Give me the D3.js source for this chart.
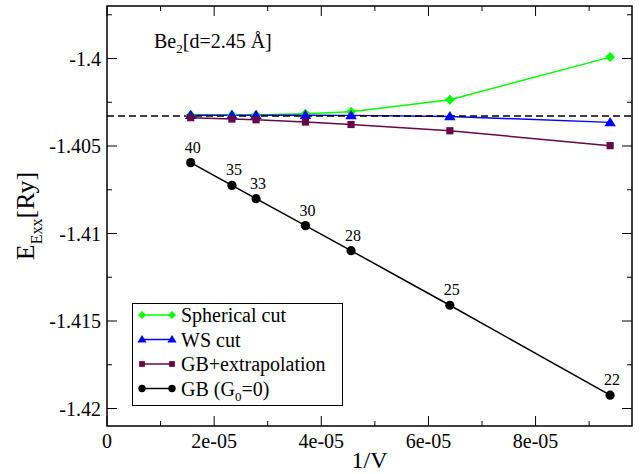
<!DOCTYPE html>
<html>
<head>
<meta charset="utf-8">
<script src="https://cdn.jsdelivr.net/npm/d3@7"></script>
</head>
<body style="margin:0; background:#fff">
<div id="chart"></div>
<script>
var width = 644;
var height = 474;

// cell sizes (N) and 1/V = 1/N^3
var cells = [40, 35, 33, 30, 28, 25, 22];
var invV = [1.5625e-05, 2.3324e-05, 2.7826e-05, 3.7037e-05, 4.5554e-05, 6.4e-05, 9.3914e-05];

// series values (Ry)
var spherical = [-1.40323, -1.40323, -1.40323, -1.40316, -1.40304, -1.40236, -1.39992];
var wsCut = [-1.40324, -1.40324, -1.40324, -1.40324, -1.40325, -1.40331, -1.40365];
var gbExtrap = [-1.40338, -1.40346, -1.40350, -1.40363, -1.40377, -1.40413, -1.40498];
var gbG0 = [-1.40595, -1.40725, -1.40801, -1.40955, -1.41098, -1.41410, -1.41924];
var reference = -1.40329;

// axis ticks
var xTicks = [0, 2e-05, 4e-05, 6e-05, 8e-05];
var xTickLabels = ["0", "2e-05", "4e-05", "6e-05", "8e-05"];
var xMinor = [1e-05, 3e-05, 5e-05, 7e-05, 9e-05];
var yTicks = [-1.4, -1.405, -1.41, -1.415, -1.42];
var yTickLabels = ["-1.4", "-1.405", "-1.41", "-1.415", "-1.42"];
var yMinor = [-1.3975, -1.4025, -1.4075, -1.4125, -1.4175];

var seriesNames = ["Spherical cut", "WS cut", "GB+extrapolation", "GB (G0=0)"];

var margin = { left: 107, right: 12, top: 6, bottom: 48 };
var x0 = margin.left, x1 = width - margin.right;
var y0 = margin.top, y1 = height - margin.bottom;

var svg = d3.select("#chart")
    .append("svg")
    .attr("width", width)
    .attr("height", height);

var x = d3.scaleLinear().domain([0, 9.8e-05]).range([x0, x1]);
var y = d3.scaleLinear().domain([-1.421, -1.397]).range([y1, y0]);

// ticks on all four sides, pointing inward
function ticks(vals, len) {
    vals.forEach(function(v) {
        svg.append("line").attr("x1", x(v)).attr("x2", x(v)).attr("y1", y1).attr("y2", y1 - len)
            .attr("stroke", "#000").attr("stroke-width", 1);
        svg.append("line").attr("x1", x(v)).attr("x2", x(v)).attr("y1", y0).attr("y2", y0 + len)
            .attr("stroke", "#000").attr("stroke-width", 1);
    });
}
function yticks(vals, len) {
    vals.forEach(function(v) {
        svg.append("line").attr("y1", y(v)).attr("y2", y(v)).attr("x1", x0).attr("x2", x0 + len)
            .attr("stroke", "#000").attr("stroke-width", 1);
        svg.append("line").attr("y1", y(v)).attr("y2", y(v)).attr("x1", x1).attr("x2", x1 - len)
            .attr("stroke", "#000").attr("stroke-width", 1);
    });
}
ticks(xTicks, 10);
ticks(xMinor, 5);
yticks(yTicks, 10);
yticks(yMinor, 5);

// tick labels
svg.selectAll(".xl").data(xTicks).enter().append("text")
    .attr("x", function(d) { return x(d); })
    .attr("y", y1 + 22)
    .attr("text-anchor", "middle")
    .attr("font-size", 20)
    .text(function(d, i) { return xTickLabels[i]; });

svg.selectAll(".yl").data(yTicks).enter().append("text")
    .attr("x", x0 - 6)
    .attr("y", function(d) { return y(d); })
    .attr("dy", "0.35em")
    .attr("text-anchor", "end")
    .attr("font-size", 20)
    .text(function(d, i) { return yTickLabels[i]; });

// frame
svg.append("rect")
    .attr("x", x0).attr("y", y0)
    .attr("width", x1 - x0).attr("height", y1 - y0)
    .attr("fill", "none").attr("stroke", "#000").attr("stroke-width", 1.5);

// axis titles
svg.append("text")
    .attr("x", (x0 + x1) / 2).attr("y", y1 + 42)
    .attr("text-anchor", "middle")
    .attr("font-size", 24)
    .text("1/V");

var yt = svg.append("text")
    .attr("transform", "translate(34,216) rotate(-90)")
    .attr("text-anchor", "middle")
    .attr("font-size", 26);
yt.append("tspan").text("E");
yt.append("tspan").attr("font-size", 16).attr("dy", 8).text("Exx");
yt.append("tspan").attr("dy", -8).text("[Ry]");

// molecule label
var bl = svg.append("text").attr("x", 154).attr("y", 48).attr("font-size", 20);
bl.append("tspan").text("Be");
bl.append("tspan").attr("font-size", 13).attr("dy", 5).text("2");
bl.append("tspan").attr("dy", -5).text("[d=2.45 Å]");

var colors = ["#00ff00", "#0000ff", "#670748", "#000000"];
var allSeries = [spherical, wsCut, gbExtrap, gbG0];

// marker shapes: square diamond, triangle, square, circle
function marker(k, r) {
    if (k === 0) return "M0," + (-r) + "L" + r + ",0L0," + r + "L" + (-r) + ",0Z";
    if (k === 1) return "M0," + (-r) + "L" + (r * 1.05) + "," + (r * 0.7) + "L" + (-r * 1.05) + "," + (r * 0.7) + "Z";
    if (k === 2) return "M" + (-r * 0.75) + "," + (-r * 0.75) + "h" + (r * 1.5) + "v" + (r * 1.5) + "h" + (-r * 1.5) + "Z";
    return d3.symbol().type(d3.symbolCircle).size(Math.PI * r * r)();
}
var markerR = [5, 5.5, 4.8, 4.6];

var line = d3.line()
    .x(function(d, i) { return x(invV[i]); })
    .y(function(d) { return y(d); });

// series lines
allSeries.forEach(function(s, k) {
    svg.append("path")
        .datum(s)
        .attr("d", line)
        .attr("fill", "none")
        .attr("stroke", colors[k])
        .attr("stroke-width", 1.5);
});

// dashed reference line
svg.append("line")
    .attr("x1", x0).attr("x2", x1)
    .attr("y1", y(reference)).attr("y2", y(reference))
    .attr("stroke", "#000").attr("stroke-width", 1.5)
    .attr("stroke-dasharray", "7,4");

// markers
allSeries.forEach(function(s, k) {
    svg.selectAll(".m" + k).data(s).enter().append("path")
        .attr("d", marker(k, markerR[k]))
        .attr("transform", function(d, i) { return "translate(" + x(invV[i]) + "," + y(d) + ")"; })
        .attr("fill", colors[k]);
});

// cell size labels above GB points
svg.selectAll(".cl").data(gbG0).enter().append("text")
    .attr("x", function(d, i) { return x(invV[i]) + 2; })
    .attr("y", function(d, i) { return y(d) - 10; })
    .attr("text-anchor", "middle")
    .attr("font-size", 16)
    .text(function(d, i) { return cells[i]; });

// legend
var lg = svg.append("g");
lg.append("rect")
    .attr("x", 132.5).attr("y", 303.5)
    .attr("width", 210).attr("height", 102)
    .attr("fill", "#fff").attr("stroke", "#000").attr("stroke-width", 1);

seriesNames.forEach(function(name, k) {
    var ry = 315 + k * 24.5;
    lg.append("line")
        .attr("x1", 142).attr("x2", 172)
        .attr("y1", ry).attr("y2", ry)
        .attr("stroke", colors[k]).attr("stroke-width", 1.5);
    [142, 172].forEach(function(px) {
        lg.append("path")
            .attr("d", marker(k, markerR[k] * 0.8))
            .attr("transform", "translate(" + px + "," + ry + ")")
            .attr("fill", colors[k]);
    });
    var t = lg.append("text").attr("x", 181).attr("y", ry + 7).attr("font-size", 20);
    if (k === 3) {
        t.append("tspan").text("GB (G");
        t.append("tspan").attr("font-size", 13).attr("dy", 5).text("0");
        t.append("tspan").attr("dy", -5).text("=0)");
    } else {
        t.text(name);
    }
});

// serif font on every text
svg.selectAll("text").style("font-family", "'Liberation Serif'");
</script>
</body>
</html>
